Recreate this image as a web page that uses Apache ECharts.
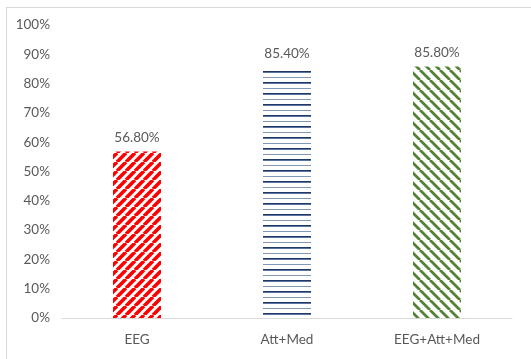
<!DOCTYPE html>
<html>
<head>
<meta charset="utf-8">
<script src="https://cdn.jsdelivr.net/npm/echarts@6/dist/echarts.min.js"></script>
<style>
  html, body { margin: 0; padding: 0; background: #fff; }
  #frame { position: absolute; left: 6px; top: 7px; width: 600px; height: 400px;
           border: 1px solid #d9d9d9; box-sizing: border-box; }
  #chart { position: absolute; left: 0; top: 0; width: 531px; height: 359px; }
</style>
</head>
<body>
<div id="frame"></div>
<div id="chart"></div>
<script>
// Accuracy by feature set
const categories = ['EEG', 'Att+Med', 'EEG+Att+Med'];
const accuracy = [56.8, 85.4, 85.8];
const yTicks = [0, 10, 20, 30, 40, 50, 60, 70, 80, 90, 100];

// Hatch fills
function tile(w, h, draw) {
  const c = document.createElement('canvas');
  c.width = w; c.height = h;
  const ctx = c.getContext('2d');
  ctx.fillStyle = '#fff';
  ctx.fillRect(0, 0, w, h);
  draw(ctx);
  return c;
}
function diag(size, color, width, up) {
  return tile(size, size, ctx => {
    ctx.strokeStyle = color;
    ctx.lineWidth = width;
    ctx.beginPath();
    for (let k = -1; k <= 1; k++) {
      if (up) {
        ctx.moveTo(k * size, size); ctx.lineTo(k * size + size, 0);
      } else {
        ctx.moveTo(k * size, 0); ctx.lineTo(k * size + size, size);
      }
    }
    ctx.stroke();
  });
}
const redHatch = diag(9, '#ff0000', 3.6, true);
const greenHatch = diag(10, '#548235', 2.8, false);
const blueHatch = tile(8, 11, ctx => {
  ctx.fillStyle = '#8497b0';
  ctx.fillRect(0, 0, 8, 1);
  ctx.fillStyle = '#203864';
  ctx.fillRect(0, 5, 8, 1);
  ctx.fillStyle = '#5b74a3';
  ctx.fillRect(0, 6, 8, 1);
});
const fills = [redHatch, blueHatch, greenHatch];

const chart = echarts.init(document.getElementById('chart'));
const textColor = '#595959';
const fontFamily = 'Lato, "Open Sans", sans-serif';
const fontSize = 13.5;

chart.setOption({
  animation: false,
  grid: { left: 62, right: 19, top: 25, bottom: 41 },
  xAxis: {
    type: 'category',
    data: categories,
    axisLine: { lineStyle: { color: '#d9d9d9', width: 1 } },
    axisTick: { show: false },
    axisLabel: { color: textColor, fontSize, fontFamily, margin: 15 }
  },
  yAxis: {
    type: 'value',
    min: yTicks[0],
    max: yTicks[yTicks.length - 1],
    interval: yTicks[1] - yTicks[0],
    axisLine: { show: false },
    axisTick: { show: false },
    splitLine: { show: false },
    axisLabel: { color: textColor, fontSize, fontFamily, margin: 12, formatter: '{value}%' }
  },
  series: [{
    type: 'bar',
    barWidth: 48,
    data: accuracy.map((v, i) => ({
      value: v,
      itemStyle: { color: { image: fills[i], repeat: 'repeat' } }
    })),
    label: {
      show: true,
      position: 'top',
      distance: 7,
      color: textColor,
      fontSize,
      fontFamily,
      formatter: p => p.value.toFixed(2) + '%'
    }
  }]
});
</script>
</body>
</html>
